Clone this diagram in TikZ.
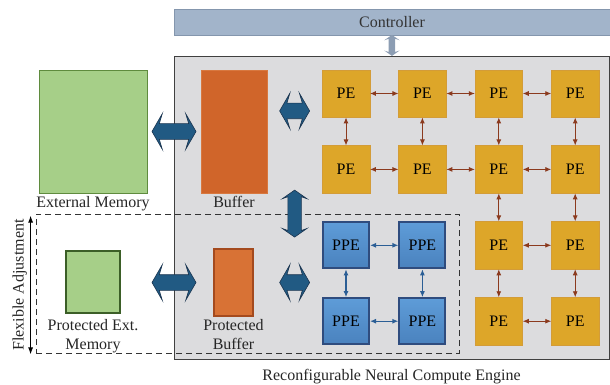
\documentclass[tikz,border=0pt]{standalone}
\usepackage{fontspec}
\setmainfont{Liberation Serif}
\usetikzlibrary{positioning,arrows.meta,shapes.arrows,calc}

\definecolor{ctrlfill}{HTML}{A2B4CA}
\definecolor{ctrledge}{HTML}{8496AD}
\definecolor{enggray}{HTML}{DCDCDE}
\definecolor{memgreen}{HTML}{A6CF88}
\definecolor{memedge}{HTML}{5F8B3E}
\definecolor{pmemedge}{HTML}{3B5E27}
\definecolor{buforange}{HTML}{D0652A}
\definecolor{bufedge}{HTML}{D8783F}
\definecolor{pbuforange}{HTML}{D87235}
\definecolor{pbufedge}{HTML}{A44A1E}
\definecolor{pegold}{HTML}{DDA629}
\definecolor{peedge}{HTML}{D39C38}
\definecolor{ppetop}{HTML}{5E9CD8}
\definecolor{ppebot}{HTML}{4A82BE}
\definecolor{ppeedge}{HTML}{2F4C7E}
\definecolor{linkbrown}{HTML}{8B3A1E}
\definecolor{linkblue}{HTML}{2B5E95}
\definecolor{arrblue}{HTML}{215A83}
\definecolor{arrdark}{HTML}{1B3550}
\definecolor{ctlgray}{HTML}{8C9DB3}

\begin{document}
\begin{tikzpicture}[
  x=1pt, y=-1pt,
  node distance=28pt and 28.5pt,
  font=\fontsize{16}{19}\selectfont,
  box/.style={draw, inner sep=0pt, align=center},
  pe/.style={box, fill=pegold, draw=peedge, minimum size=47.5pt},
  ppe/.style={box, top color=ppetop, bottom color=ppebot, draw=ppeedge, line width=2pt, minimum size=46pt},
  mem/.style={box, fill=memgreen, draw=memedge},
  buf/.style={box, fill=buforange, draw=bufedge},
  lbl/.style={inner sep=1pt, align=center, text=black!85},
  link/.style={{Latex[length=6pt,width=5pt]}-{Latex[length=6pt,width=5pt]}, draw=linkbrown, line width=0.9pt},
  plink/.style={link, draw=linkblue, line width=1.4pt},
  bigarr/.style={double arrow, fill=arrblue, draw=arrdark, line width=0.6pt, inner xsep=0pt, inner ysep=7.5pt,
    double arrow head extend=10pt, double arrow tip angle=120,
    double arrow head indent=3pt, minimum height=44pt},
  ctlarr/.style={double arrow, fill=ctlgray, draw=none, inner xsep=0pt, inner ysep=3pt,
    double arrow head extend=4.5pt, double arrow tip angle=110,
    double arrow head indent=1.5pt, minimum height=21pt, rotate=90}
]
\useasboundingbox (0,0) rectangle (610,385);

% compute engine and controller
\node[box, fill=enggray, draw=black!75, line width=0.8pt, minimum width=435pt, minimum height=303pt] (eng) at (391.5,207.5) {};
\node[box, fill=ctrlfill, draw=ctrledge, minimum width=436pt, minimum height=25.5pt, text=black!80] (ctrl) at (392,22.25) {Controller};
\path (ctrl) -- node[ctlarr] (ctlarrow) {} (eng);
\node[lbl, below=9pt of eng] (engcap) {Reconfigurable Neural Compute Engine};

% flexible region
\node[draw=black!80, dash pattern=on 6pt off 4pt, line width=0.8pt, minimum width=423pt, minimum height=139pt, inner sep=0pt] (flex) at (247.5,283.5) {};
\draw[{Latex[length=7pt,width=5pt]}-{Latex[length=7pt,width=5pt]}, line width=0.9pt] ([xshift=-5pt,yshift=-1pt]flex.south west) -- node[midway, sloped, above, inner sep=3pt, text=black!85] (flexlbl) {Flexible Adjustment} ([xshift=-5pt,yshift=-2pt]flex.north west);

% memories and buffers
\node[mem, minimum width=108pt, minimum height=123pt] (mem) at (93,131.5) {};
\node[lbl, below=2pt of mem] (memlbl) {External Memory};
\node[buf, minimum width=66pt, minimum height=123pt] (bufr) at (234,131.5) {};
\node[lbl, below=2pt of bufr] (buflbl) {Buffer};
\node[mem, draw=pmemedge, line width=2pt, minimum width=54pt, minimum height=62pt] (pmem) at (93,282) {};
\node[lbl, below=4pt of pmem] (pmemlbl) {Protected Ext.\\Memory};
\node[buf, fill=pbuforange, draw=pbufedge, line width=1.6pt, minimum width=39pt, minimum height=67pt] (pbuf) at (233.5,282.5) {};
\node[lbl, below=1pt of pbuf] (pbuflbl) {Protected\\Buffer};

% PE array
\node[pe] (pe11) at (346,93.5) {PE};
\node[pe, right=of pe11] (pe12) {PE};
\node[pe, right=of pe12] (pe13) {PE};
\node[pe, right=of pe13] (pe14) {PE};
\node[pe, below=of pe11] (pe21) {PE};
\node[pe, right=of pe21] (pe22) {PE};
\node[pe, right=of pe22] (pe23) {PE};
\node[pe, right=of pe23] (pe24) {PE};
\node[pe, below=of pe23] (pe33) {PE};
\node[pe, right=of pe33] (pe34) {PE};
\node[pe, below=of pe33] (pe43) {PE};
\node[pe, right=of pe43] (pe44) {PE};
\node[ppe] (ppe1) at (pe21 |- pe33) {PPE};
\node[ppe] (ppe2) at (pe22 |- pe33) {PPE};
\node[ppe] (ppe3) at (pe21 |- pe43) {PPE};
\node[ppe] (ppe4) at (pe22 |- pe43) {PPE};

\draw[link] (pe11) -- (pe12); \draw[link] (pe12) -- (pe13); \draw[link] (pe13) -- (pe14);
\draw[link] (pe21) -- (pe22); \draw[link] (pe22) -- (pe23); \draw[link] (pe23) -- (pe24);
\draw[link] (pe11) -- (pe21); \draw[link] (pe12) -- (pe22); \draw[link] (pe13) -- (pe23); \draw[link] (pe14) -- (pe24);
\draw[link] (pe23) -- (pe33); \draw[link] (pe24) -- (pe34); \draw[link] (pe33) -- (pe34);
\draw[link] (pe33) -- (pe43); \draw[link] (pe34) -- (pe44); \draw[link] (pe43) -- (pe44);
\draw[plink] (ppe1) -- (ppe2); \draw[plink] (ppe3) -- (ppe4);
\draw[plink] (ppe1) -- (ppe3); \draw[plink] (ppe2) -- (ppe4);

% wide data paths
\path (mem) -- node[bigarr] (arrm) {} (bufr);
\path (bufr) -- node[bigarr, minimum height=30pt] (arrb) {} (pe11);
\node[bigarr] (arrpm) at (arrm |- pbuf) {};
\node[bigarr, minimum height=30pt] (arrpb) at (arrb |- pbuf) {};
\node[bigarr, rotate=90, minimum height=47pt, inner ysep=6.5pt,
  double arrow head extend=5.5pt, double arrow tip angle=110, double arrow head indent=2pt] (arrv) at (arrb |- flex.north) {};
\end{tikzpicture}
\end{document}
